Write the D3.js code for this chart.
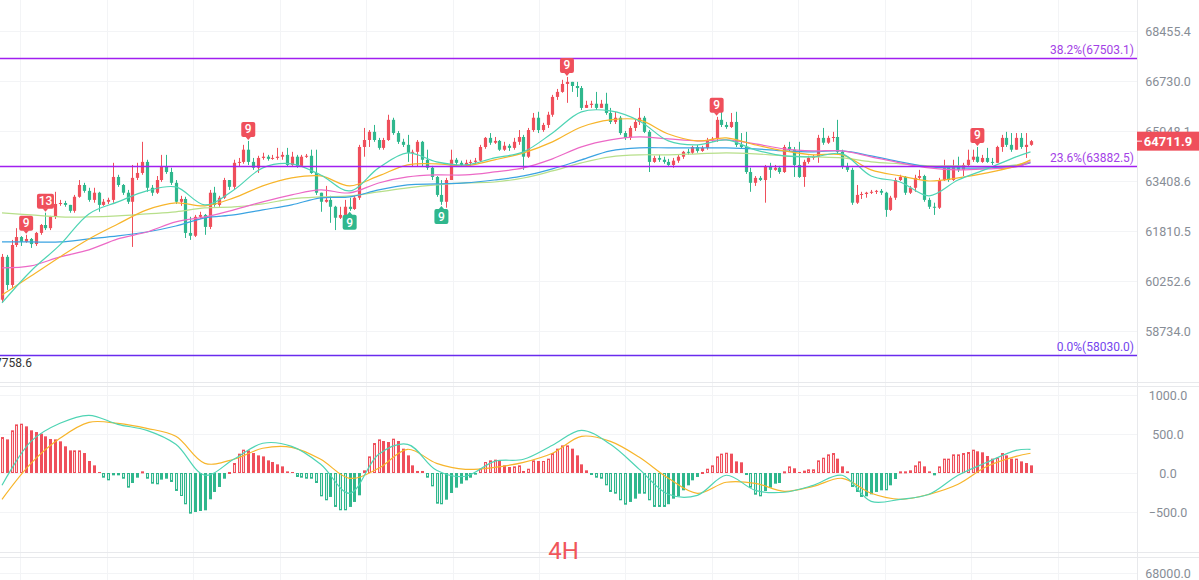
<!DOCTYPE html>
<html>
<head>
<meta charset="utf-8">
<script src="https://cdn.jsdelivr.net/npm/d3@7"></script>
<style>
  body { margin: 0; background: #fff; }
  svg { display: block; font-family: Roboto, "Noto Sans", sans-serif; }
</style>
</head>
<body>
<div id="chart"></div>
<script>
// 4H candles, open = previous close
let firstOpen = 59680;
let closes = [61000,60130,61370,61620,61470,61560,61400,61750,62000,61900,
  62260,62670,62700,62640,62450,62900,63280,63090,62800,63030,
  62640,62740,62800,63540,63280,63030,62740,63510,63670,64030,
  63190,63030,63440,63870,63700,63350,62740,62830,61750,61660,
  62260,62320,61940,63030,62640,62870,63440,63220,64000,64030,
  64430,64030,63840,64160,64200,64130,64160,64200,64260,63930,
  64200,63900,64200,64230,63670,63030,62740,62800,62580,62230,
  62320,62580,62510,62870,64520,64750,65020,64750,64490,64750,
  65420,64980,64690,64590,64330,64360,64690,64100,63840,63540,
  62960,62740,63440,64100,64000,63930,64000,64030,64070,64520,
  64820,64660,64720,64430,64560,64490,64690,64850,64200,65080,
  65490,65080,65250,65590,66190,66360,66630,66700,66560,66490,
  65820,65920,65960,65820,65960,65650,65350,65490,64980,64820,
  65150,65350,65490,65020,64030,64160,64100,64030,63930,64070,
  64200,64360,64330,64520,64390,64490,64750,64790,65420,65250,
  65180,65350,64590,64520,63700,63350,63510,63440,63870,63770,
  63840,63700,64520,64430,63930,63540,64030,64160,64200,64820,
  64660,64820,64850,64360,63870,63770,62710,62960,62990,63030,
  63060,63090,63030,62480,62870,63440,63540,63030,63190,63510,
  63570,62800,62580,62550,63440,63870,63440,63870,63770,63930,
  64100,64200,64030,64160,64030,64000,64520,64820,64590,64430,
  64820,64520,64590,64711.9];
let highs = [61090,61060,61530,61900,61650,61690,61590,61780,62030,62390,
  62290,63060,62800,62770,62640,62960,63440,63350,63190,63190,
  63060,62830,62870,64000,63610,63310,63120,63930,64000,64690,
  64100,63280,63570,64260,64260,63840,63440,62930,62900,62260,
  62320,62420,62350,63120,63220,62930,63510,63350,64100,64160,
  64590,64720,64160,64230,64330,64260,64260,64490,64360,64490,
  64360,64260,64260,64290,64430,64430,63030,63250,62930,62610,
  62580,62800,62870,62930,64590,65150,65080,65250,64820,64820,
  65590,65490,65050,64790,64920,64430,64750,64720,64430,63900,
  63570,63440,63510,64430,64160,64070,64100,64100,64160,64590,
  64850,64980,64850,64750,64690,64620,64820,65080,64920,65150,
  65650,65690,65320,65690,66260,66460,66770,66870,66630,66700,
  66560,66060,66060,66360,66090,66330,65820,65690,65550,65050,
  65220,65420,65820,65550,65080,64230,64260,64200,64130,64160,
  64260,64390,64460,64560,64590,64560,64820,64850,65520,65690,
  65350,65650,65690,64980,65020,63840,63570,63570,63930,64000,
  63930,63900,64590,64690,64520,64690,64100,64230,64260,64920,
  65150,64890,65020,65420,64430,64000,63840,63280,63060,63060,
  63120,63120,63150,63060,62930,63510,63610,63570,63250,63610,
  63770,63610,62870,62710,63510,64100,63900,64100,64200,64000,
  64430,64430,64520,64260,64490,64160,64560,64920,65020,64980,
  64980,64980,64980,64750];
let lows = [59580,59980,60040,61310,61340,61440,61280,61340,61690,61840,
  61840,62190,62610,62580,62390,62390,62870,63030,62740,62710,
  62420,62610,62670,62710,63220,62960,62670,61310,63440,63610,
  63060,62930,62990,63380,63640,63280,62670,62610,61590,61530,
  61620,62190,61690,61870,62580,62580,62830,63120,63120,63870,
  63970,63930,63770,63670,64100,64070,64100,64100,64100,63870,
  63900,63840,63870,64160,63640,62960,62420,62710,62070,61840,
  62190,62230,62450,62480,62800,64200,64520,64690,64430,64430,
  64720,64920,64620,64520,64030,63870,63870,63870,63770,63440,
  62900,62640,62550,63440,63900,63870,63900,63900,63970,64030,
  64460,64590,64620,64390,64390,64390,64430,64590,63770,64160,
  65020,64980,65020,65150,65520,66090,66330,65990,66360,66190,
  65750,65820,65820,65750,65820,65590,65280,65280,64920,64750,
  64750,65050,65250,64980,63700,64000,64030,63970,63900,63840,
  64000,64130,64260,64290,64330,64360,64430,64690,64690,65180,
  65120,65150,64520,64460,63640,63060,63250,63410,62710,63510,
  63740,63640,63670,64360,63540,63510,63220,63970,64100,64000,
  64590,64620,64690,64290,63800,63700,62640,62670,62830,62870,
  62990,62990,62960,62260,62450,62800,63410,62960,62990,63060,
  63440,62740,62510,62320,62510,63410,63380,63410,63700,63570,
  63870,64030,64000,64000,64000,63930,64000,64360,64520,64360,
  64430,64460,64160,64560];

// moving averages, read every 6th candle
let maIdx = [0,6,12,18,24,30,36,42,48,54,60,66,72,78,84,90,96,102,108,114,120,126,
  132,138,144,150,156,162,168,174,180,186,192,198,204,210,213];
let ma5 = [59584,60562,61374,62353,62737,63088,63217,62641,63121,63835,63966,63605,63088,63835,
  64327,64032,63933,64163,64360,64983,65686,65720,65384,64720,64589,64753,64425,64229,64196,
  64294,63573,63377,62929,63441,63802,64196,64360];
let ma10 = [59827,60407,60999,61561,62033,62481,62705,62609,62865,63249,63507,63573,63249,63573,
  63933,63966,63900,64097,64327,64688,65183,65418,65418,64950,64720,64819,64589,64392,64261,
  64261,63769,63573,63409,63507,63671,63900,64097];
let ma20 = [60656,60718,60999,61218,61561,61779,62097,62257,62481,62737,62961,63121,63025,63345,
  63540,63605,63605,63704,63835,64130,64524,64753,64852,64786,64720,64753,64622,64458,64392,
  64392,64196,63999,63835,63769,63802,63868,64032];
let ma30 = [61467,61467,61467,61561,61654,61779,61969,62225,62321,62481,62641,62865,62897,63121,
  63281,63313,63345,63441,63573,63802,64097,64392,64491,64491,64491,64491,64458,64392,64360,
  64392,64229,64032,63868,63835,63835,63900,63999];
let ma60 = [62385,62321,62257,62257,62289,62353,62417,62545,62577,62673,62833,62897,62929,63057,
  63185,63281,63345,63377,63507,63737,63999,64196,64261,64261,64294,64327,64294,64229,64196,
  64163,64032,63966,63900,63900,63868,63933,64032];

// MACD
let dif = [-158,406,637,740,624,547,368,-29,176,381,342,112,-260,240,368,35,-42,150,176,355,547,
  368,47,-273,-286,-29,-222,-247,-158,-29,-363,-337,-273,-29,137,291,304];
let dea = [-337,124,445,650,637,573,470,124,176,317,329,176,-68,60,304,124,47,73,137,253,470,
  406,201,-68,-260,-119,-132,-235,-171,-68,-260,-337,-273,-145,86,214,253];
let hist = [461,431,547,623,632,598,547,525,504,470,
  436,431,406,342,290,290,290,256,154,98,
  13,-60,-94,-30,-30,-73,-188,-128,-60,21,
  -73,-137,-145,-85,-73,-115,-230,-295,-401,-521,
  -500,-487,-478,-337,-243,-179,-73,13,128,248,
  299,290,256,226,213,162,141,111,85,21,
  13,-51,-60,-73,-73,-128,-299,-350,-307,-435,
  -478,-478,-435,-371,-286,34,213,384,431,410,
  397,440,410,312,226,98,26,26,-60,-171,
  -393,-401,-342,-256,-188,-137,-94,-60,-21,55,
  141,162,171,162,98,77,85,98,26,55,
  162,154,154,184,256,312,354,354,312,226,
  111,34,-21,-60,-73,-158,-243,-265,-350,-406,
  -371,-329,-265,-265,-350,-435,-435,-435,-400,-329,
  -300,-222,-158,-94,-51,13,55,98,213,248,
  260,248,149,137,-26,-188,-278,-299,-231,-188,
  -137,-128,21,85,60,13,30,47,47,162,
  196,239,256,184,85,21,-179,-243,-307,-299,
  -273,-243,-222,-222,-158,-77,21,21,34,98,
  149,85,21,-30,85,184,184,239,239,256,
  269,299,278,265,218,184,196,256,226,184,
  184,149,128,98];

// fibonacci levels
let fibLabels = ["38.2%", "23.6%", "0.0%"];
let fibValues = [67503.1, 63882.5, 58030.0];

// TD sequential marks
let tdUpIdx = [5, 9, 51, 117, 148, 202];
let tdUpText = ["9", "13", "9", "9", "9", "9"];
let tdDownIdx = [72, 91];
let tdDownText = ["9", "9"];

// axis ticks
let mainTicks = [68455.4, 66730.0, 65048.1, 63408.6, 61810.5, 60252.6, 58734.0];
let macdTicks = [1000, 500, 0, -500];
let lowerTicks = [68000.0];
let gridIdx = [3.8, 21.7, 39.6, 57.5, 75.4, 93.3, 111.2, 129.1, 147.0, 164.9, 182.8, 200.7, 218.6];

let rot = "#ef4f5b", gruen = "#2fb78d";
let maFarben = ["#4fd4b4", "#f7b52b", "#ec69c6", "#3aa3e2", "#b7df8a"];

function zeichne() {
  const W = 1199, H = 580, rechts = 1137;
  let svg = d3.select("#chart").append("svg").attr("width", W).attr("height", H);
  svg.append("rect").attr("width", W).attr("height", H).attr("fill", "#fff");

  let x = d3.scaleLinear().domain([0, closes.length - 1]).range([2, 1030.5]);
  let y = d3.scaleLog().domain([58734.0, 68455.4]).range([331, 31]);
  let yM = d3.scaleLinear().domain([-500, 1000]).range([512, 395]);
  let yU = d3.scaleLinear().domain([67000, 68000]).range([600, 573]);

  let defs = svg.append("defs");
  defs.append("clipPath").attr("id", "cMain").append("rect").attr("width", rechts).attr("height", 382);
  defs.append("clipPath").attr("id", "cMacd").append("rect").attr("y", 386).attr("width", rechts).attr("height", 166);

  // grid
  let grid = svg.append("g").attr("stroke", "#f3f4f6").attr("stroke-width", 1);
  mainTicks.forEach(v => grid.append("line").attr("x1", 0).attr("x2", rechts)
    .attr("y1", Math.round(y(v)) + 0.5).attr("y2", Math.round(y(v)) + 0.5));
  macdTicks.forEach(v => grid.append("line").attr("x1", 0).attr("x2", rechts)
    .attr("y1", Math.round(yM(v)) + 0.5).attr("y2", Math.round(yM(v)) + 0.5));
  lowerTicks.forEach(v => grid.append("line").attr("x1", 0).attr("x2", rechts)
    .attr("y1", Math.round(yU(v)) + 0.5).attr("y2", Math.round(yU(v)) + 0.5));
  gridIdx.forEach(i => grid.append("line").attr("y1", 0).attr("y2", H)
    .attr("x1", Math.round(x(i)) + 0.5).attr("x2", Math.round(x(i)) + 0.5));

  // pane borders
  let rand = svg.append("g").attr("stroke", "#e8e9ec");
  [382, 386, 552, 557].forEach(v => rand.append("line").attr("x1", 0).attr("x2", W)
    .attr("y1", v + 0.5).attr("y2", v + 0.5));
  rand.append("line").attr("x1", rechts + 0.5).attr("x2", rechts + 0.5).attr("y1", 0).attr("y2", H);

  // candles
  let main = svg.append("g").attr("clip-path", "url(#cMain)");
  let kerzen = closes.map((c, i) => {
    let o = i == 0 ? firstOpen : closes[i - 1];
    return { i: i, o: o, c: c, h: Math.max(highs[i], o, c), l: Math.min(lows[i], o, c) };
  });
  let k = main.selectAll(".kerze").data(kerzen).enter().append("g").attr("class", "kerze");
  k.append("line")
    .attr("x1", d => Math.round(x(d.i)) + 0.5).attr("x2", d => Math.round(x(d.i)) + 0.5)
    .attr("y1", d => y(d.h)).attr("y2", d => y(d.l))
    .attr("stroke", d => d.c >= d.o ? rot : gruen).attr("stroke-width", 1);
  k.append("rect")
    .attr("x", d => Math.round(x(d.i)) + 0.5 - 1.6).attr("width", 3.2)
    .attr("y", d => y(Math.max(d.o, d.c)))
    .attr("height", d => Math.max(1, y(Math.min(d.o, d.c)) - y(Math.max(d.o, d.c))))
    .attr("fill", d => d.c >= d.o ? rot : gruen);

  // moving averages
  let maLinie = d3.line().x((d, j) => x(maIdx[j])).y(d => y(d)).curve(d3.curveCatmullRom.alpha(0.5));
  [ma60, ma30, ma20, ma10, ma5].forEach((reihe, n) => {
    main.append("path").attr("d", maLinie(reihe)).attr("fill", "none")
      .attr("stroke", maFarben[4 - n]).attr("stroke-width", 1.2);
  });

  // fibonacci
  let fibFarben = ["#a11ff0", "#a11ff0", "#6a2bee"];
  let fibText = ["#a33fe6", "#a33fe6", "#7444ee"];
  fibValues.forEach((v, n) => {
    let yy = Math.round(y(v)) + 0.5;
    svg.append("line").attr("x1", 0).attr("x2", rechts).attr("y1", yy).attr("y2", yy)
      .attr("stroke", fibFarben[n]).attr("stroke-width", 1.3);
    svg.append("text").attr("x", rechts - 3).attr("y", yy - 5).attr("text-anchor", "end")
      .attr("font-size", "12px").attr("fill", fibText[n])
      .text(fibLabels[n] + "(" + v.toFixed(1) + ")");
  });

  // TD labels
  tdUpIdx.forEach((i, n) => {
    let cx = x(i), spitze = y(kerzen[i].h) - 1, bw = tdUpText[n].length > 1 ? 17 : 14;
    let g = svg.append("g");
    g.append("rect").attr("x", cx - bw / 2).attr("y", spitze - 18).attr("width", bw).attr("height", 15)
      .attr("rx", 2).attr("fill", rot);
    g.append("path").attr("d", `M${cx - 3},${spitze - 3.5}L${cx + 3},${spitze - 3.5}L${cx},${spitze}Z`).attr("fill", rot);
    g.append("text").attr("x", cx).attr("y", spitze - 6.5).attr("text-anchor", "middle")
      .attr("font-size", "12px").attr("font-weight", 500).attr("fill", "#fff").text(tdUpText[n]);
  });
  tdDownIdx.forEach((i, n) => {
    let cx = x(i), spitze = y(kerzen[i].l) + 1;
    let g = svg.append("g");
    g.append("rect").attr("x", cx - 7).attr("y", spitze + 3).attr("width", 14).attr("height", 15)
      .attr("rx", 2).attr("fill", gruen);
    g.append("path").attr("d", `M${cx - 3},${spitze + 3.5}L${cx + 3},${spitze + 3.5}L${cx},${spitze}Z`).attr("fill", gruen);
    g.append("text").attr("x", cx).attr("y", spitze + 15).attr("text-anchor", "middle")
      .attr("font-size", "12px").attr("font-weight", 500).attr("fill", "#fff").text(tdDownText[n]);
  });

  svg.append("text").attr("x", 32).attr("y", 367).attr("text-anchor", "end")
    .attr("font-size", "12px").attr("fill", "#333").text("67758.6");

  // MACD
  let macd = svg.append("g").attr("clip-path", "url(#cMacd)");
  let balken = hist.map((h, i) => {
    let vor = i == 0 ? 0 : hist[i - 1];
    let hohl = h >= 0 ? h >= vor : h <= vor;
    return { i: i, h: h, hohl: hohl };
  });
  macd.selectAll(".balken").data(balken).enter().append("rect").attr("class", "balken")
    .attr("x", d => Math.round(x(d.i)) - 1 + (d.hohl ? 0.5 : 0))
    .attr("width", d => d.hohl ? 2 : 3)
    .attr("y", d => Math.min(yM(d.h), yM(0)) + (d.hohl ? 0.5 : 0))
    .attr("height", d => Math.max(1, Math.abs(yM(d.h) - yM(0)) - (d.hohl ? 1 : 0)))
    .attr("fill", d => d.h >= 0 ? rot : gruen)
    .attr("fill-opacity", d => d.hohl ? 0.2 : 1)
    .attr("stroke", d => d.hohl ? (d.h >= 0 ? rot : gruen) : "none")
    .attr("stroke-width", 1);
  let macdLinie = d3.line().x((d, j) => x(maIdx[j])).y(d => yM(d)).curve(d3.curveCatmullRom.alpha(0.5));
  macd.append("path").attr("d", macdLinie(dea)).attr("fill", "none").attr("stroke", "#f7b52b").attr("stroke-width", 1.2);
  macd.append("path").attr("d", macdLinie(dif)).attr("fill", "none").attr("stroke", "#4fd4b4").attr("stroke-width", 1.2);

  // right axes
  function achse(skala, werte) {
    let a = svg.append("g").attr("transform", "translate(1168,0)")
      .call(d3.axisRight(skala).tickValues(werte).tickSize(0).tickFormat(d3.format(".1f")));
    a.select(".domain").remove();
    a.selectAll("text").attr("x", 0).attr("text-anchor", "middle")
      .attr("fill", "#878d96").attr("font-size", "12.5px").attr("font-family", "Roboto");
  }
  achse(y, mainTicks);
  achse(yM, macdTicks);
  achse(yU, lowerTicks);

  // last price tag
  let letzter = closes[closes.length - 1];
  let py = y(letzter);
  svg.append("rect").attr("x", rechts).attr("y", py - 9.5).attr("width", W - rechts).attr("height", 19).attr("fill", "#ef4f5b");
  svg.append("line").attr("x1", rechts).attr("x2", rechts + 5).attr("y1", py).attr("y2", py).attr("stroke", "#fff");
  svg.append("text").attr("x", 1168).attr("y", py + 4.5).attr("text-anchor", "middle")
    .attr("font-size", "13px").attr("font-weight", 700).attr("fill", "#fff").text(letzter.toFixed(1));

  svg.append("text").attr("x", 563.5).attr("y", 559).attr("text-anchor", "middle")
    .attr("font-size", "24px").attr("fill", "#f0555a").text("4H");
}

zeichne();
</script>
</body>
</html>
